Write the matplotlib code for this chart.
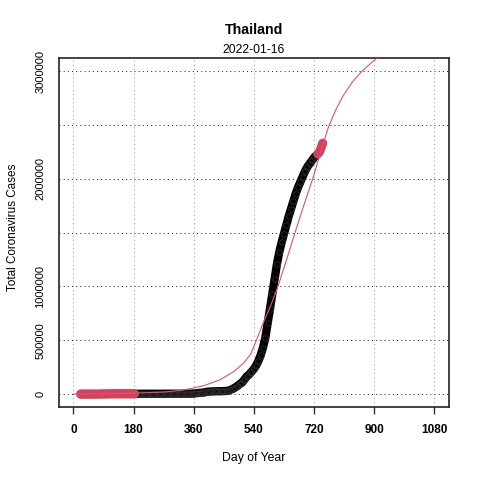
import matplotlib

matplotlib.use("Agg")
import matplotlib.pyplot as plt

plt.rcParams["font.family"] = ["Liberation Sans", "DejaVu Sans"]

country = "Thailand"
report_date = "2022-01-16"

# early points (red), day of year since 2020-01-01
early_days = [22, 32, 42, 52, 62, 72, 82, 92, 102, 112, 122, 132, 142, 152, 162, 172, 182]
early_cases = [4, 19, 25, 33, 42, 82, 721, 1651, 2423, 2700, 2954, 3009, 3034, 3077, 3112, 3151, 3171]

# main points (black), weekly
main_days = [
    182, 189, 196, 203, 210, 217, 224, 231, 238, 245, 252, 259, 266, 273, 280,
    287, 294, 301, 308, 315, 322, 329, 336, 343, 350, 357, 364, 371, 378, 385,
    392, 399, 406, 413, 420, 427, 434, 441, 448, 455, 462, 469, 476, 483, 490,
    497, 504, 511, 518, 525, 532, 539, 546, 553, 560, 567, 574, 581, 588, 595,
    602, 609, 616, 623, 630, 637, 644, 651, 658, 665, 672, 679, 686, 693, 700,
    707, 714, 721, 728,
]
main_cases = [
    3170, 3190, 3220, 3260, 3300, 3330, 3380, 3400, 3420, 3430, 3450, 3480, 3520, 3560, 3600,
    3680, 3710, 3760, 3790, 3820, 3860, 3900, 4000, 4150, 4250, 5300, 6900, 9600, 11800, 12800,
    16000, 21500, 23400, 24600, 25700, 26400, 26700, 27100, 27800, 28800, 30900, 38000, 48000, 60000, 74000,
    92000, 106000, 133000, 163000, 180000, 205000, 230000, 262000, 305000, 360000, 430000, 520000, 657000, 790000, 930000,
    1070000, 1210000, 1320000, 1410000, 1490000, 1570000, 1650000, 1720000, 1790000, 1860000, 1920000, 1970000, 2020000, 2070000, 2110000,
    2140000, 2170000, 2200000, 2220000,
]

# latest points (red), daily
late_days = list(range(731, 747))
late_cases = [
    2230000, 2233000, 2236000, 2239000, 2243000, 2248000, 2254000, 2262000,
    2270000, 2278000, 2286000, 2295000, 2304000, 2313000, 2322000, 2330000,
]

# fitted curve
fit_days = [0, 90, 180, 270, 330, 390, 440, 480, 510, 530, 545, 565, 590, 612, 640, 663,
            690, 716, 740, 763, 785, 807, 835, 864, 900, 930, 960, 1000]
fit_cases = [1000, 3000, 9000, 19000, 38000, 78000, 135000, 210000, 290000, 370000, 480000,
             640000, 820000, 1000000, 1270000, 1500000, 1760000, 2000000, 2250000, 2480000,
             2640000, 2770000, 2900000, 3000000, 3100000, 3160000, 3210000, 3260000]

x_ticks = [0, 180, 360, 540, 720, 900, 1080]
y_grid = [0, 500000, 1000000, 1500000, 2000000, 2500000, 3000000]
y_labels = [0, 500000, 1000000, 2000000, 3000000]

red = "#D2425F"

fig = plt.figure(figsize=(4.8, 4.8), dpi=100)
ax = fig.add_axes([0.123, 0.152, 0.812, 0.727])

for x in x_ticks:
    ax.axvline(x, color="#9a9a9a", lw=0.75, ls=(0, (1, 3)), zorder=0)
for y in y_grid:
    ax.axhline(y, color="#333333", lw=0.75, ls=(0, (1, 3)), zorder=0)

ax.plot(early_days, early_cases, color=red, lw=6.8, solid_capstyle="round", zorder=3)
ax.plot(main_days, main_cases, color="black", lw=6, solid_capstyle="round", zorder=2)
ax.plot(main_days, main_cases, "o", mfc="none", mec="#3a3a3a", ms=4, mew=0.5, zorder=2)
ax.plot(late_days, late_cases, color=red, lw=6.5, solid_capstyle="round", zorder=3)
ax.plot(fit_days, fit_cases, color="#DF536B", lw=0.8, zorder=4)

ax.set_xlim(-43.2, 1123.2)
ax.set_ylim(-120000, 3120000)

ax.set_xticks(x_ticks)
ax.set_xticklabels([str(v) for v in x_ticks], fontweight="bold", fontsize=8.5)
ax.tick_params(axis="x", length=5, width=1, pad=7.5, color="#333333")
ax.set_yticks(y_labels)
ax.set_yticklabels([str(v) for v in y_labels], rotation=90, va="center", fontsize=8)
ax.tick_params(axis="y", length=0, pad=10)

for s in ax.spines.values():
    s.set_linewidth(1.2)
    s.set_color("#222222")

fig.text(0.529, 0.937, country, ha="center", va="center", fontsize=10.2, fontweight="bold")
fig.text(0.529, 0.896, report_date, ha="center", va="center", fontsize=8.8)
fig.text(0.529, 0.046, "Day of Year", ha="center", va="center", fontsize=8.8)
fig.text(0.027, 0.527, "Total Coronavirus Cases", ha="center", va="center", rotation=90, fontsize=8.4)

fig.savefig("out.png", dpi=100)
